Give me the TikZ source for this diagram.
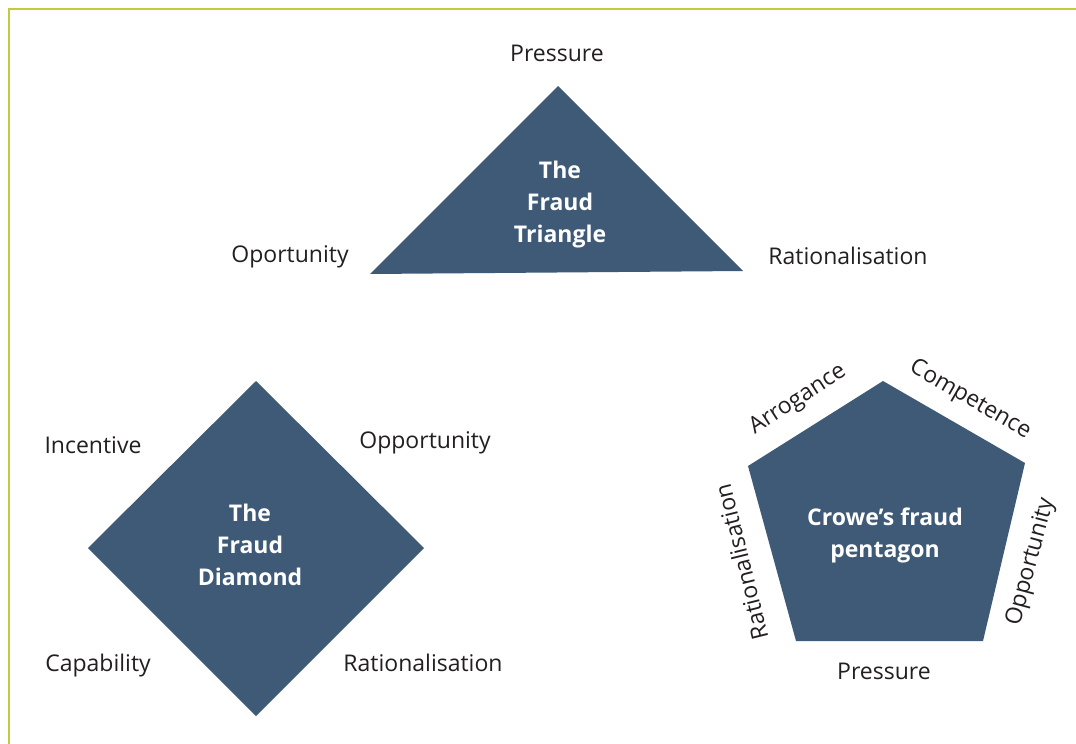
\documentclass[tikz,border=0pt]{standalone}
\usepackage{fontspec}
\setmainfont{Open Sans}
\definecolor{shapeblue}{HTML}{3E5A76}
\definecolor{framegreen}{HTML}{C5C93C}
\definecolor{labeltext}{HTML}{231F20}
\begin{document}
\begin{tikzpicture}[x=1pt,y=-1pt,
  lbl/.style={text=labeltext,font=\fontsize{23}{26}\selectfont,inner sep=0pt,anchor=center},
  title/.style={text=white,font=\bfseries\fontsize{23}{32}\selectfont,align=center,inner sep=0pt,anchor=center},
  shapefill/.style={fill=shapeblue}]
\useasboundingbox (0,0) rectangle (1076,744);
\fill[white] (0,0) rectangle (1076,744);
% frame
\draw[framegreen,line width=2pt] (9,744) -- (9,9) -- (1076,9);
% triangle
\fill[shapefill] (558,86) -- (743,271) -- (370,274) -- cycle;
\node[title] (tt) at (560,205) {The\\Fraud\\Triangle};
\node[lbl] (tp) at (557,53) {Pressure};
\node[lbl] (to) at (290,257) {Oportunity};
\node[lbl] (tr) at (848,256) {Rationalisation};
% diamond
\fill[shapefill] (256,381) -- (424,548) -- (256,716) -- (88,548) -- cycle;
\node[title] (dt) at (250,545) {The\\Fraud\\Diamond};
\node[lbl] (di) at (93,445) {Incentive};
\node[lbl] (do) at (425,443) {Opportunity};
\node[lbl] (dc) at (98,666) {Capability};
\node[lbl] (dr) at (423,663) {Rationalisation};
% pentagon
\fill[shapefill] (883,381) -- (1025,463) -- (983,641) -- (796,641) -- (748,466) -- cycle;
\node[title] (pt) at (885,535) {Crowe’s fraud\\pentagon};
\node[lbl] (pp) at (884,671) {Pressure};
\node[lbl,rotate=33] (pa) at (798,400) {Arrogance};
\node[lbl,rotate=-30] (pc) at (970,400) {Competence};
\node[lbl,rotate=104] (pr) at (741,562) {Rationalisation};
\node[lbl,rotate=75] (po) at (1031,562) {Opportunity};
\end{tikzpicture}
\end{document}
